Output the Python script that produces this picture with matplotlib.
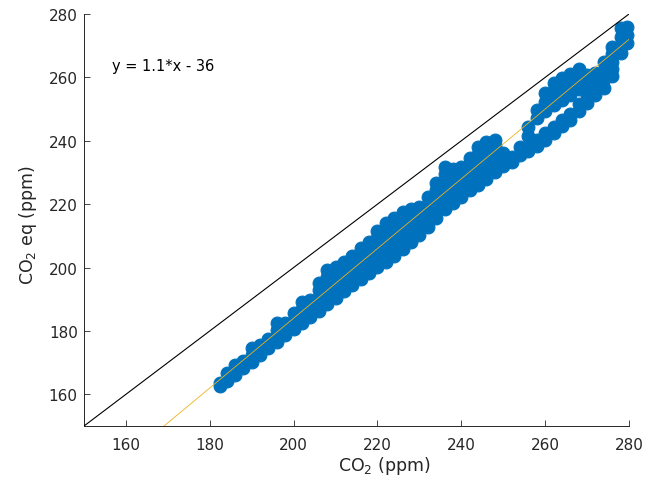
import matplotlib.pyplot as plt
import numpy as np

# CO2 vs CO2-equivalent
# each x value carries a small stack of CO2eq values (the cloud is a thick band)
main_co2 = [182.5, 184, 186, 188, 190, 192, 194, 196, 198, 200, 202, 204, 206, 208,
            210, 212, 214, 216, 218, 220, 222, 224, 226, 228, 230, 232, 234, 236,
            238, 240, 242, 244, 246, 248, 250, 252, 254]
main_co2eq = [
    [162.5, 163.5],
    [164.1, 166.6],
    [166.1, 167.6, 169.1],
    [168.2, 170.6],
    [170.3, 172.5, 174.6],
    [172.4, 174.0, 175.6],
    [174.5, 176.0, 177.6],
    [176.5, 178.5, 180.4, 182.4],
    [178.6, 180.6, 182.6],
    [180.7, 183.1, 185.6],
    [182.5, 184.7, 186.9, 189.1],
    [184.4, 186.1, 187.9, 189.6],
    [186.2, 188.4, 190.6, 192.9, 195.1],
    [188.4, 190.5, 192.7, 194.8, 197.0, 199.1],
    [190.4, 192.8, 195.2, 197.7, 200.1],
    [192.5, 194.8, 197.0, 199.3, 201.6],
    [194.5, 196.8, 199.0, 201.3, 203.6],
    [196.5, 198.9, 201.3, 203.7, 206.1],
    [198.3, 200.8, 203.2, 205.7, 208.1],
    [200.1, 202.4, 204.7, 207.0, 209.3, 211.6],
    [201.9, 204.3, 206.8, 209.2, 211.7, 214.1],
    [203.7, 206.1, 208.5, 210.8, 213.2, 215.6],
    [205.7, 208.1, 210.5, 212.8, 215.2, 217.6],
    [207.9, 210.0, 212.2, 214.3, 216.5, 218.6],
    [210.4, 212.6, 214.8, 216.9, 219.1],
    [212.9, 215.2, 217.5, 219.8, 222.1],
    [215.5, 217.7, 219.9, 222.2, 224.4, 226.6],
    [218.4, 220.6, 222.8, 225.0, 227.2, 229.4, 231.6],
    [220.4, 222.5, 224.7, 226.8, 229.0, 231.1],
    [222.4, 224.7, 227.0, 229.3, 231.6],
    [224.4, 226.4, 228.5, 230.5, 232.6, 234.6],
    [225.9, 228.3, 230.8, 233.2, 235.7, 238.1],
    [227.9, 230.2, 232.6, 234.9, 237.3, 239.6],
    [230.1, 232.2, 234.4, 236.5, 238.7, 240.3],
    [231.9, 234.0, 236.0],
    [233.4, 234.8],
    [235.6, 238.1],
]

# the cloud splits in two branches above ~255 ppm
upper_co2 = [256, 258, 260, 262, 264, 266, 268, 270, 272]
upper_co2eq = [
    [241.5, 244.5],
    [247.2, 249.7],
    [249.3, 252.2, 255.0],
    [251.4, 253.6, 255.9, 258.1],
    [253.0, 255.2, 257.5, 259.7],
    [254.6, 256.7, 258.9, 261.0],
    [256.3, 258.4, 260.5, 262.6],
    [258.2, 260.7],
    [260.9, 261.5],
]
lower_co2 = [256, 258, 260, 262, 264, 266, 268, 270, 272]
lower_co2eq = [
    [236.7, 238.1],
    [238.3, 240.2],
    [240.3, 242.3],
    [242.4, 244.4],
    [244.6, 246.5],
    [246.7, 248.6],
    [249.3, 251.5],
    [251.9, 254.4],
    [254.5, 257.1],
]
top_co2 = [274, 276, 278, 279.5]
top_co2eq = [
    [256.7, 259.5, 262.2, 265.0],
    [260.3, 262.7, 265.0, 267.4, 269.7],
    [267.7, 270.3, 272.9, 275.5],
    [270.9, 273.5, 276.0],
]

fit_slope = 1.1
fit_intercept = -36
fit_label = 'y = 1.1*x - 36'
axis_lims = [150, 280]
ticks = [160, 180, 200, 220, 240, 260, 280]

blue = '#0072BD'
dark = '#262626'


def flatten(co2, co2eq):
    xs, ys = [], []
    for x, stack in zip(co2, co2eq):
        for y in stack:
            xs.append(x)
            ys.append(y)
    return xs, ys


x_all, y_all = [], []
for c, e in [(main_co2, main_co2eq), (upper_co2, upper_co2eq),
             (lower_co2, lower_co2eq), (top_co2, top_co2eq)]:
    xs, ys = flatten(c, e)
    x_all += xs
    y_all += ys

fig = plt.figure(figsize=(6.57, 4.81), dpi=100)
ax = fig.add_axes([0.1279, 0.1123, 0.8295, 0.8565])

# dense pile of circles -> reads as a solid band
ax.scatter(x_all, y_all, s=85, color=blue, edgecolors=blue,
           linewidths=0.8, clip_on=False, zorder=2)

# 1:1 line and linear fit
ax.plot(axis_lims, axis_lims, color='k', lw=0.8, zorder=3)
fx = np.array(axis_lims, dtype=float)
ax.plot(fx, fit_slope * fx + fit_intercept, color='#EDB120', lw=0.6, zorder=4)

ax.text(156.7, 263.6, fit_label, fontsize=10.5, va='center', color='k')

ax.set_xlim(axis_lims)
ax.set_ylim(axis_lims)
ax.set_xticks(ticks)
ax.set_yticks(ticks)
for side in ['top', 'right']:
    ax.spines[side].set_visible(False)
for side in ['left', 'bottom']:
    ax.spines[side].set_color(dark)
    ax.spines[side].set_linewidth(0.7)
ax.tick_params(direction='in', length=4, width=0.6, labelsize=11, colors=dark)
ax.tick_params(axis='x', pad=8)
ax.tick_params(axis='y', pad=4.5)

ax.set_xlabel('CO$_2$ (ppm)', fontsize=12.5, color=dark)
ax.set_ylabel('CO$_2$ eq (ppm)', fontsize=12.5, color=dark)
ax.xaxis.set_label_coords(0.551, -0.095)
ax.yaxis.set_label_coords(-0.103, 0.49)
ax.xaxis.label.set_va('center')
ax.yaxis.label.set_va('center')

fig.savefig('out.png', dpi=100)
